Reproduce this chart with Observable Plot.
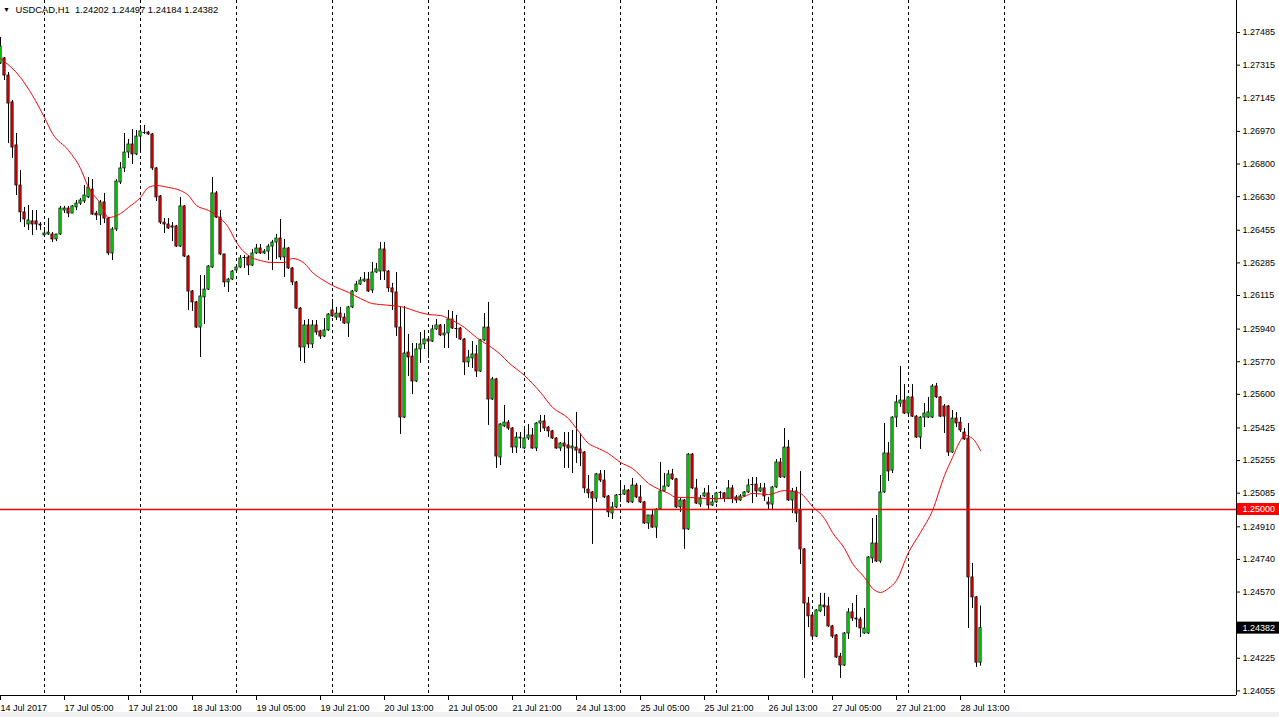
<!DOCTYPE html>
<html><head><meta charset="utf-8">
<script src="https://cdn.jsdelivr.net/npm/d3@7"></script>
<script src="https://cdn.jsdelivr.net/npm/@observablehq/plot@0.6"></script>
<style>
html,body{margin:0;padding:0;background:#fff;}
#chart svg{display:block;}
#chart text{white-space:pre;}
</style></head><body><div id="chart"></div>
<script>
const symbol = "USDCAD,H1";
const open = [
1.27324,1.27350,1.27261,1.27121,1.26897,1.26688,1.26548,1.26485,1.26501,1.26501,
1.26485,1.26428,1.26433,1.26433,1.26407,1.26433,1.26558,1.26568,1.26542,1.26574,
1.26594,1.26605,1.26626,1.26667,1.26542,1.26532,1.26600,1.26516,1.26334,1.26459,
1.26704,1.26777,1.26860,1.26902,1.26850,1.26943,1.26964,1.26964,1.26954,1.26777,
1.26631,1.26495,1.26485,1.26475,1.26475,1.26370,1.26579,1.26318,1.26136,1.26079,
1.25948,1.26105,1.26146,1.26261,1.26647,1.26521,1.26329,1.26183,1.26198,1.26245,
1.26261,1.26313,1.26313,1.26271,1.26334,1.26360,1.26334,1.26344,1.26370,1.26391,
1.26412,1.26313,1.26360,1.26256,1.26183,1.26047,1.25844,1.25959,1.25860,1.25959,
1.25928,1.25901,1.25933,1.26037,1.26000,1.26021,1.26000,1.25969,1.26053,1.26136,
1.26172,1.26188,1.26198,1.26141,1.26235,1.26240,1.26355,1.26240,1.26152,1.26131,
1.25948,1.25479,1.25818,1.25797,1.25667,1.25834,1.25860,1.25886,1.25875,1.25938,
1.25959,1.25907,1.25917,1.25990,1.25943,1.25943,1.25886,1.25766,1.25787,1.25808,
1.25719,1.25881,1.25948,1.25573,1.25678,1.25271,1.25433,1.25453,1.25422,1.25323,
1.25370,1.25318,1.25370,1.25386,1.25318,1.25448,1.25459,1.25427,1.25407,1.25370,
1.25318,1.25344,1.25334,1.25318,1.25323,1.25313,1.25297,1.25104,1.25089,1.25057,
1.25183,1.25151,1.25068,1.24979,1.25011,1.25078,1.25078,1.25099,1.25037,1.25125,
1.25063,1.25037,1.24927,1.24969,1.24906,1.25000,1.25094,1.25120,1.25183,1.25157,
1.25011,1.25047,1.24896,1.25286,1.25110,1.25026,1.25068,1.25084,1.25021,1.25037,
1.25089,1.25084,1.25057,1.25110,1.25063,1.25047,1.25068,1.25089,1.25130,1.25130,
1.25094,1.25110,1.25037,1.25026,1.25115,1.25245,1.25167,1.25323,1.25047,1.25094,
1.24995,1.24792,1.24510,1.24448,1.24338,1.24469,1.24500,1.24495,1.24391,1.24344,
1.24234,1.24187,1.24354,1.24464,1.24432,1.24427,1.24354,1.24354,1.24745,1.24823,
1.24729,1.25089,1.25292,1.25203,1.25479,1.25552,1.25568,1.25500,1.25584,1.25484,
1.25375,1.25479,1.25479,1.25479,1.25641,1.25584,1.25537,1.25537,1.25297,1.25474,
1.25453,1.25401,1.25370,1.24646,1.24542,1.24202];
const high = [
1.27459,1.27355,1.27277,1.27131,1.26959,1.26766,1.26574,1.26584,1.26558,1.26558,
1.26495,1.26469,1.26516,1.26443,1.26433,1.26579,1.26579,1.26579,1.26584,1.26610,
1.26620,1.26688,1.26730,1.26719,1.26553,1.26610,1.26647,1.26521,1.26469,1.26719,
1.26808,1.26959,1.26928,1.26980,1.26975,1.27001,1.27001,1.26970,1.26959,1.26782,
1.26636,1.26516,1.26516,1.26495,1.26480,1.26626,1.26584,1.26323,1.26141,1.26084,
1.26219,1.26219,1.26271,1.26730,1.26657,1.26558,1.26329,1.26204,1.26245,1.26266,
1.26323,1.26323,1.26323,1.26355,1.26381,1.26381,1.26355,1.26381,1.26402,1.26433,
1.26511,1.26407,1.26365,1.26261,1.26188,1.26053,1.25985,1.25990,1.25985,1.25985,
1.25933,1.25995,1.26021,1.26094,1.26053,1.26053,1.26021,1.26058,1.26141,1.26188,
1.26209,1.26235,1.26235,1.26287,1.26282,1.26391,1.26391,1.26245,1.26178,1.26235,
1.26053,1.26058,1.25912,1.25865,1.25865,1.25922,1.25933,1.25901,1.25959,1.25990,
1.25964,1.25964,1.26037,1.26032,1.26011,1.25948,1.25891,1.25829,1.25875,1.25855,
1.25886,1.26021,1.26079,1.25688,1.25683,1.25448,1.25542,1.25464,1.25427,1.25401,
1.25401,1.25427,1.25443,1.25422,1.25453,1.25490,1.25490,1.25433,1.25412,1.25375,
1.25349,1.25401,1.25401,1.25412,1.25506,1.25396,1.25302,1.25177,1.25094,1.25188,
1.25203,1.25203,1.25073,1.25037,1.25078,1.25141,1.25125,1.25104,1.25162,1.25136,
1.25125,1.25042,1.24969,1.24995,1.25005,1.25245,1.25188,1.25203,1.25209,1.25162,
1.25057,1.25052,1.25292,1.25292,1.25157,1.25073,1.25110,1.25125,1.25073,1.25089,
1.25094,1.25089,1.25151,1.25125,1.25073,1.25078,1.25094,1.25157,1.25167,1.25167,
1.25136,1.25136,1.25063,1.25120,1.25260,1.25266,1.25422,1.25360,1.25110,1.25115,
1.25198,1.24797,1.24542,1.24453,1.24479,1.24563,1.24563,1.24542,1.24396,1.24349,
1.24250,1.24359,1.24484,1.24510,1.24552,1.24438,1.24484,1.24755,1.24953,1.24969,
1.25177,1.25448,1.25349,1.25484,1.25594,1.25745,1.25651,1.25589,1.25651,1.25490,
1.25484,1.25552,1.25584,1.25651,1.25657,1.25589,1.25547,1.25542,1.25516,1.25506,
1.25479,1.25422,1.25448,1.24719,1.24547,1.24497];
const low = [
1.27319,1.27235,1.26907,1.26829,1.26636,1.26495,1.26469,1.26454,1.26428,1.26454,
1.26454,1.26417,1.26428,1.26391,1.26396,1.26428,1.26542,1.26521,1.26542,1.26558,
1.26584,1.26594,1.26620,1.26532,1.26506,1.26480,1.26490,1.26323,1.26297,1.26448,
1.26693,1.26756,1.26829,1.26798,1.26844,1.26855,1.26954,1.26949,1.26766,1.26605,
1.26485,1.26438,1.26459,1.26396,1.26365,1.26365,1.26313,1.26037,1.26032,1.25943,
1.25792,1.25964,1.26141,1.26256,1.26516,1.26323,1.26157,1.26131,1.26193,1.26230,
1.26256,1.26256,1.26219,1.26266,1.26329,1.26329,1.26329,1.26297,1.26245,1.26303,
1.26297,1.26209,1.26251,1.26167,1.26042,1.25771,1.25761,1.25839,1.25839,1.25907,
1.25886,1.25896,1.25928,1.26000,1.25985,1.25980,1.25964,1.25896,1.26047,1.26131,
1.26167,1.26183,1.26131,1.26126,1.26230,1.26193,1.26193,1.26131,1.26037,1.25901,
1.25391,1.25474,1.25693,1.25599,1.25662,1.25761,1.25834,1.25787,1.25870,1.25933,
1.25901,1.25839,1.25839,1.25938,1.25891,1.25881,1.25698,1.25740,1.25735,1.25688,
1.25714,1.25875,1.25438,1.25568,1.25214,1.25229,1.25427,1.25412,1.25292,1.25292,
1.25318,1.25313,1.25360,1.25313,1.25302,1.25401,1.25407,1.25375,1.25365,1.25313,
1.25302,1.25214,1.25214,1.25188,1.25240,1.25224,1.25084,1.25057,1.24818,1.25037,
1.25141,1.25057,1.24958,1.24948,1.25005,1.25037,1.25073,1.25031,1.25031,1.25057,
1.25031,1.24922,1.24896,1.24901,1.24849,1.24995,1.25089,1.25115,1.25151,1.25005,
1.24985,1.24792,1.24891,1.25104,1.25026,1.25011,1.25063,1.24995,1.25016,1.25031,
1.25057,1.25037,1.25052,1.25031,1.25031,1.25042,1.25063,1.25084,1.25031,1.25063,
1.25089,1.25042,1.24995,1.25000,1.25110,1.25162,1.25162,1.25042,1.24979,1.24932,
1.24714,1.24120,1.24385,1.24318,1.24333,1.24464,1.24443,1.24385,1.24328,1.24224,
1.24120,1.24182,1.24323,1.24417,1.24385,1.24333,1.24349,1.24349,1.24719,1.24724,
1.24719,1.25084,1.25146,1.25188,1.25427,1.25532,1.25495,1.25490,1.25479,1.25370,
1.25313,1.25427,1.25474,1.25474,1.25578,1.25479,1.25396,1.25276,1.25292,1.25427,
1.25401,1.25360,1.24380,1.24484,1.24177,1.24184];
const close = [
1.27412,1.27261,1.27115,1.26886,1.26688,1.26548,1.26511,1.26506,1.26485,1.26485,
1.26480,1.26438,1.26443,1.26407,1.26433,1.26568,1.26568,1.26542,1.26579,1.26594,
1.26610,1.26636,1.26678,1.26537,1.26532,1.26600,1.26516,1.26334,1.26459,1.26709,
1.26777,1.26860,1.26902,1.26850,1.26943,1.26970,1.26964,1.26954,1.26777,1.26626,
1.26495,1.26485,1.26464,1.26469,1.26370,1.26579,1.26318,1.26136,1.26079,1.25948,
1.26110,1.26146,1.26266,1.26647,1.26521,1.26329,1.26183,1.26198,1.26240,1.26261,
1.26308,1.26313,1.26271,1.26334,1.26360,1.26334,1.26344,1.26370,1.26391,1.26412,
1.26313,1.26360,1.26256,1.26183,1.26047,1.25844,1.25959,1.25860,1.25959,1.25922,
1.25901,1.25933,1.26016,1.26006,1.26021,1.26000,1.25969,1.26053,1.26136,1.26172,
1.26193,1.26198,1.26136,1.26235,1.26251,1.26355,1.26240,1.26152,1.26131,1.25948,
1.25479,1.25813,1.25792,1.25667,1.25834,1.25860,1.25886,1.25875,1.25938,1.25959,
1.25907,1.25917,1.25990,1.25943,1.25943,1.25886,1.25766,1.25792,1.25808,1.25719,
1.25881,1.25948,1.25573,1.25678,1.25276,1.25443,1.25453,1.25422,1.25323,1.25375,
1.25375,1.25370,1.25386,1.25318,1.25448,1.25459,1.25422,1.25407,1.25370,1.25318,
1.25344,1.25328,1.25318,1.25328,1.25307,1.25292,1.25110,1.25084,1.25057,1.25183,
1.25151,1.25063,1.24985,1.25011,1.25073,1.25078,1.25099,1.25037,1.25125,1.25063,
1.25037,1.24927,1.24969,1.24906,1.25000,1.25094,1.25120,1.25183,1.25157,1.25011,
1.25047,1.24896,1.25286,1.25110,1.25031,1.25057,1.25084,1.25021,1.25037,1.25084,
1.25089,1.25057,1.25110,1.25057,1.25047,1.25068,1.25089,1.25125,1.25130,1.25094,
1.25110,1.25068,1.25026,1.25115,1.25245,1.25167,1.25323,1.25047,1.25094,1.24979,
1.24792,1.24510,1.24443,1.24338,1.24474,1.24500,1.24490,1.24391,1.24338,1.24229,
1.24187,1.24354,1.24464,1.24432,1.24427,1.24380,1.24380,1.24750,1.24823,1.24729,
1.25089,1.25292,1.25198,1.25479,1.25558,1.25568,1.25500,1.25584,1.25484,1.25375,
1.25479,1.25500,1.25506,1.25641,1.25584,1.25484,1.25484,1.25297,1.25474,1.25448,
1.25412,1.25365,1.24646,1.24542,1.24202,1.24382];

const maBars = [0,5,8,11,13,17,20,22,25,27,30,32,35,37,39,42,45,47,49,52,54,57,59,62,65,68,71,73,76,78,80,83,87,90,93,95,101,104,107,110,112,116,119,122,125,127,131,135,138,142,144,147,149,152,155,158,162,167,169,172,177,184,186,188,192,196,198,200,203,206,208,211,213,216,218,220,222,224,227,230,233,236,238,240,241,243,245];
const maValues = [1.27350,1.27251,1.27157,1.27042,1.26959,1.26871,1.26777,1.26678,1.26594,1.26521,1.26542,1.26574,1.26626,1.26678,1.26688,1.26678,1.26662,1.26636,1.26584,1.26558,1.26532,1.26469,1.26391,1.26323,1.26297,1.26287,1.26287,1.26308,1.26282,1.26235,1.26204,1.26167,1.26131,1.26099,1.26073,1.26068,1.26053,1.26032,1.26016,1.26011,1.25995,1.25948,1.25896,1.25855,1.25808,1.25766,1.25698,1.25610,1.25532,1.25474,1.25422,1.25344,1.25323,1.25292,1.25245,1.25214,1.25136,1.25084,1.25063,1.25063,1.25057,1.25057,1.25068,1.25084,1.25078,1.25099,1.25094,1.25084,1.25016,1.24953,1.24880,1.24797,1.24719,1.24646,1.24589,1.24568,1.24589,1.24630,1.24776,1.24880,1.24995,1.25177,1.25271,1.25360,1.25386,1.25370,1.25307];

const separatorBars = [11,35,59,83,107,131,155,179,203,227,251];
const dateLabelBars = [0,16,32,48,64,80,96,112,128,144,160,176,192,208,224,240];
const dateLabels = ["14 Jul 2017","17 Jul 05:00","17 Jul 21:00","18 Jul 13:00","19 Jul 05:00","19 Jul 21:00","20 Jul 13:00","21 Jul 05:00","21 Jul 21:00","24 Jul 13:00","25 Jul 05:00","25 Jul 21:00","26 Jul 13:00","27 Jul 05:00","27 Jul 21:00","28 Jul 13:00"];
const priceTicks = [1.27485,1.27315,1.27145,1.26970,1.26800,1.26630,1.26455,1.26285,1.26115,1.25940,1.25770,1.25600,1.25425,1.25255,1.25085,1.24910,1.24740,1.24570,1.24225,1.24055];
const levelLine = [1.25000];

const candles = open.map((o, i) => ({i, open: o, high: high[i], low: low[i], close: close[i]}));
const last = candles[candles.length - 1];
const dojis = candles.filter(d => d.open === d.close);
const ma = maBars.map((b, k) => ({i: b, v: maValues[k]}));
const dates = dateLabelBars.map((b, k) => ({i: b, label: dateLabels[k]}));

const X0 = 0, X1 = 309;
const Y0 = 1.24031, Y1 = 1.27652;
const pxY = (Y1 - Y0) / 695;
const title = `${symbol}  ${last.open.toFixed(5)} ${last.high.toFixed(5)} ${last.low.toFixed(5)} ${last.close.toFixed(5)}`;

const chart = Plot.plot({
  width: 1279, height: 717,
  marginTop: 0, marginRight: 43, marginBottom: 22, marginLeft: 0,
  x: {domain: [X0, X1], axis: null},
  y: {domain: [Y0, Y1], axis: null},
  style: {fontFamily: "'Liberation Sans', Arial, sans-serif", fontSize: "9px", color: "#000",
          background: "linear-gradient(#ffffff 712px, #f0f0f0 712px)"},
  marks: [
    Plot.ruleX(separatorBars, {x: d => d, stroke: "black", strokeDasharray: "3,3"}),
    Plot.ruleX(candles, {x: "i", y1: "low", y2: "high", stroke: "black"}),
    Plot.rect(candles.filter(d => d.close >= d.open), {x1: d => d.i - 0.28, x2: d => d.i + 0.28, y1: "open", y2: "close",
      fill: "lime", stroke: "black", strokeWidth: 0.75}),
    Plot.rect(candles.filter(d => d.close < d.open), {x1: d => d.i - 0.28, x2: d => d.i + 0.28, y1: "open", y2: "close",
      fill: "red", stroke: "black", strokeWidth: 0.75}),
    Plot.ruleY(dojis, {y: "close", x1: d => d.i - 0.375, x2: d => d.i + 0.375, stroke: "black"}),
    Plot.line(ma, {x: "i", y: "v", stroke: "red", strokeWidth: 1, curve: "monotone-x"}),
    Plot.ruleX([X1], {x: d => d, stroke: "black"}),
    Plot.ruleY([Y0], {y: d => d, stroke: "black"}),
    Plot.ruleY(priceTicks, {y: d => d, x1: () => X1, x2: () => X1 + 1, stroke: "black"}),
    Plot.text(priceTicks, {y: d => d, x: () => X1, text: d => d.toFixed(5), dx: 6, textAnchor: "start", fill: "black"}),
    Plot.ruleY(levelLine, {y: d => d, x1: () => X0, x2: () => X1, stroke: "#ff0000", strokeWidth: 1.3}),
    Plot.rect(levelLine, {x1: () => X1 + 0.25, x2: () => X1 + 11, y1: d => d - 6 * pxY, y2: d => d + 6 * pxY, fill: "red"}),
    Plot.text(levelLine, {y: d => d, x: () => X1, text: d => d.toFixed(5), dx: 6, textAnchor: "start", fill: "white"}),
    Plot.rect([last], {x1: () => X1 + 0.25, x2: () => X1 + 11, y1: d => d.close - 6 * pxY, y2: d => d.close + 6 * pxY, fill: "black"}),
    Plot.text([last], {y: "close", x: () => X1, text: d => d.close.toFixed(5), dx: 6, textAnchor: "start", fill: "white"}),
    Plot.ruleX(dates, {x: "i", y1: () => Y0, y2: () => Y0 - 5 * pxY, stroke: "black"}),
    Plot.text(dates, {x: "i", y: () => Y0, text: "label", dx: 0, dy: 13, textAnchor: "start", fill: "black"}),
    Plot.text([title], {x: () => X0, y: () => Y1, text: d => d, dx: 15, dy: 9, fontSize: 9.4, textAnchor: "start", fill: "black"}),
    Plot.text(["▼"], {x: () => X0, y: () => Y1, text: d => d, dx: 6, dy: 9, fontSize: 7, textAnchor: "middle", fill: "black"})
  ]
});
document.getElementById("chart").appendChild(chart);
</script>
</body></html>
